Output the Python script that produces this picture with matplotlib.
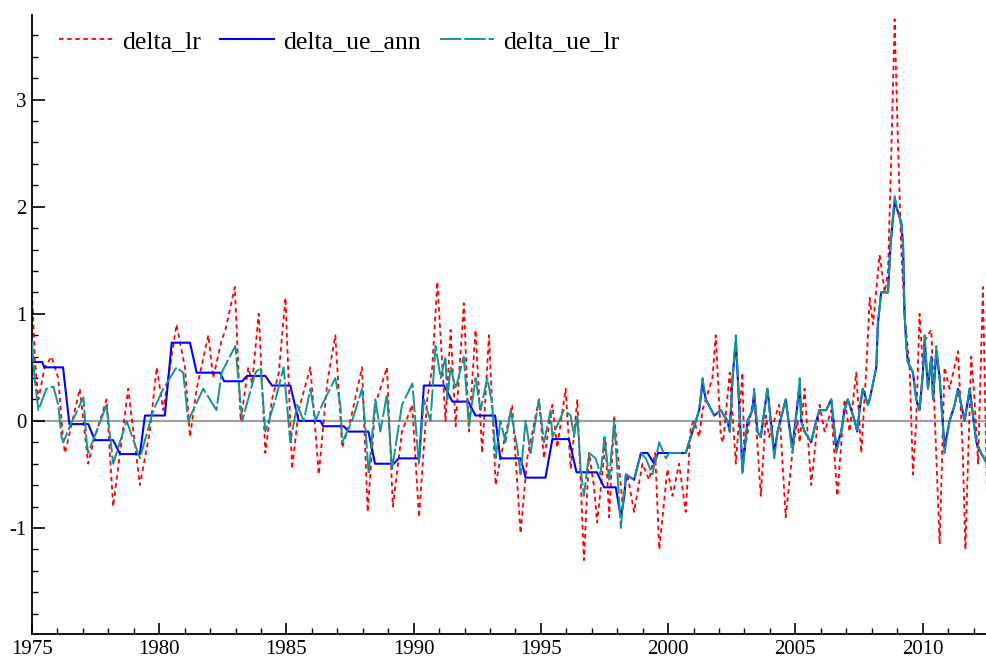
import matplotlib
matplotlib.use("Agg")
import matplotlib.pyplot as plt
from matplotlib.ticker import MultipleLocator

plt.rcParams['font.family'] = ['Liberation Serif', 'DejaVu Serif']
plt.rcParams['axes.unicode_minus'] = False

# delta_lr : (decimal year, value)
lr_t = [1975.00, 1975.12, 1975.25, 1975.50, 1975.77, 1976.03, 1976.23, 1976.30, 1976.49, 1976.88,
        1977.21, 1977.41, 1977.93, 1978.19, 1978.46, 1978.78, 1979.24, 1979.63, 1979.90, 1980.16,
        1980.68, 1981.01, 1981.21, 1981.47, 1981.93, 1982.12, 1982.45, 1982.60, 1982.97, 1983.20,
        1983.50, 1983.65, 1983.91, 1984.17, 1984.43, 1984.70, 1984.96, 1985.22, 1985.48, 1985.94,
        1986.27, 1986.60, 1986.92, 1987.19, 1987.51, 1987.97, 1988.19, 1988.49, 1988.95, 1989.18,
        1989.54, 1989.94, 1990.21, 1990.53, 1990.73, 1990.93, 1991.25, 1991.45, 1991.65, 1991.97,
        1992.17, 1992.43, 1992.69, 1992.96, 1993.22, 1993.41, 1993.68, 1993.87, 1994.20, 1994.46,
        1994.92, 1995.12, 1995.45, 1995.64, 1995.97, 1996.17, 1996.43, 1996.69, 1996.89, 1997.08,
        1997.21, 1997.54, 1997.68, 1997.88, 1998.01, 1998.20, 1998.40, 1998.66, 1998.99, 1999.25,
        1999.49, 1999.65, 1999.97, 2000.17, 2000.43, 2000.69, 2000.89, 2001.02, 2001.22, 2001.35,
        2001.74, 2001.87, 2002.07, 2002.16, 2002.42, 2002.66, 2002.92, 2002.99, 2003.38, 2003.64,
        2003.84, 2003.97, 2004.36, 2004.62, 2004.88, 2005.08, 2005.17, 2005.36, 2005.62, 2005.95,
        2006.15, 2006.41, 2006.65, 2006.93, 2007.13, 2007.39, 2007.59, 2007.79, 2007.92, 2008.05,
        2008.31, 2008.51, 2008.64, 2008.77, 2008.90, 2009.03, 2009.16, 2009.29, 2009.49, 2009.62,
        2009.75, 2009.88, 2010.01, 2010.08, 2010.34, 2010.50, 2010.67, 2010.86, 2011.06, 2011.39,
        2011.58, 2011.68, 2011.91, 2012.04, 2012.18, 2012.37, 2012.53]
lr_v = [1.20, 0.55, 0.20, 0.50, 0.60, 0.40, -0.20, -0.30, -0.10, 0.30,
        -0.40, -0.20, 0.20, -0.80, -0.30, 0.30, -0.60, -0.10, 0.50, 0.10,
        0.90, 0.50, -0.15, 0.30, 0.80, 0.40, 0.75, 0.85, 1.25, 0.00,
        0.50, 0.35, 1.00, -0.30, 0.20, 0.45, 1.15, -0.45, 0.10, 0.50,
        -0.50, 0.35, 0.80, -0.25, 0.00, 0.50, -0.85, 0.15, 0.50, -0.80,
        -0.10, 0.15, -0.90, 0.20, 0.50, 1.30, 0.00, 0.85, -0.05, 1.10,
        -0.10, 0.85, -0.30, 0.80, -0.60, -0.35, -0.05, 0.15, -1.05, -0.35,
        0.20, -0.35, 0.15, -0.25, 0.30, -0.45, 0.20, -1.30, -0.30, -0.60,
        -0.95, -0.20, -0.90, 0.05, -0.30, -0.75, -0.50, -0.85, -0.40, -0.55,
        -0.30, -1.20, -0.45, -0.70, -0.40, -0.85, -0.05, 0.00, -0.15, 0.10,
        0.40, 0.80, -0.15, -0.20, 0.45, -0.40, 0.45, -0.30, 0.25, -0.70,
        0.05, -0.15, 0.15, -0.90, -0.30, 0.00, -0.20, 0.30, -0.60, 0.15,
        -0.10, 0.10, -0.70, 0.20, -0.10, 0.45, -0.30, 0.50, 1.15, 0.90,
        1.55, 1.20, 1.40, 2.50, 3.75, 2.60, 1.60, 1.00, 0.50, -0.50,
        0.00, 1.00, 0.50, 0.75, 0.85, -0.10, -1.15, 0.50, 0.30, 0.65,
        -0.30, -1.20, 0.60, 0.20, -0.40, 1.25, -0.70]

# delta_ue_ann
ue_ann_t = [1975.00, 1975.40, 1975.48, 1976.22, 1976.47, 1977.21, 1977.47, 1978.19, 1978.46, 1979.24,
            1979.44, 1980.22, 1980.49, 1981.21, 1981.47, 1982.39, 1982.55, 1983.26, 1983.45, 1984.17,
            1984.43, 1985.15, 1985.48, 1986.33, 1986.45, 1987.25, 1987.45, 1988.22, 1988.48, 1989.22,
            1989.41, 1990.22, 1990.40, 1991.19, 1991.52, 1992.15, 1992.43, 1993.20, 1993.40, 1994.20,
            1994.40, 1995.18, 1995.45, 1996.10, 1996.40, 1997.20, 1997.48, 1997.94, 1998.14, 1998.28,
            1998.34, 1998.66, 1998.93, 1999.19, 1999.45, 1999.52, 1999.60, 2000.69, 2000.89, 2001.09,
            2001.22, 2001.35, 2001.48, 2001.81, 2002.07, 2002.33, 2002.42, 2002.53, 2002.66, 2002.92,
            2003.12, 2003.31, 2003.38, 2003.51, 2003.64, 2003.90, 2004.17, 2004.30, 2004.62, 2004.88,
            2005.08, 2005.17, 2005.23, 2005.36, 2005.62, 2005.82, 2005.95, 2006.21, 2006.41, 2006.54,
            2006.61, 2006.80, 2006.93, 2007.06, 2007.20, 2007.33, 2007.43, 2007.52, 2007.65, 2007.85,
            2007.92, 2008.18, 2008.24, 2008.37, 2008.64, 2008.74, 2008.90, 2009.03, 2009.16, 2009.23,
            2009.29, 2009.36, 2009.42, 2009.62, 2009.75, 2009.88, 2010.01, 2010.08, 2010.21, 2010.34,
            2010.41, 2010.54, 2010.67, 2010.86, 2011.06, 2011.26, 2011.39, 2011.65, 2011.85, 2012.11,
            2012.30, 2012.53]
ue_ann_v = [0.55, 0.55, 0.50, 0.50, -0.03, -0.03, -0.18, -0.18, -0.31, -0.31,
            0.05, 0.05, 0.73, 0.73, 0.45, 0.45, 0.37, 0.37, 0.42, 0.42,
            0.33, 0.33, 0.00, 0.00, -0.05, -0.05, -0.10, -0.10, -0.40, -0.40,
            -0.35, -0.35, 0.33, 0.33, 0.18, 0.18, 0.05, 0.05, -0.35, -0.35,
            -0.53, -0.53, -0.17, -0.17, -0.48, -0.48, -0.62, -0.62, -0.90, -0.70,
            -0.50, -0.55, -0.30, -0.30, -0.40, -0.35, -0.30, -0.30, -0.15, 0.00,
            0.10, 0.35, 0.20, 0.05, 0.10, 0.00, -0.10, 0.40, 0.75, -0.45,
            0.00, 0.10, 0.25, -0.10, -0.15, 0.30, -0.30, -0.10, 0.20, -0.25,
            0.15, 0.35, 0.00, -0.10, -0.20, 0.00, 0.10, 0.10, 0.20, -0.10,
            -0.25, -0.10, 0.10, 0.20, 0.10, 0.00, -0.10, 0.10, 0.30, 0.15,
            0.20, 0.50, 0.90, 1.20, 1.20, 1.65, 2.05, 1.95, 1.85, 1.65,
            1.00, 0.70, 0.55, 0.45, 0.20, 0.10, 0.45, 0.75, 0.30, 0.60,
            0.20, 0.65, 0.40, -0.25, 0.00, 0.15, 0.30, 0.00, 0.30, -0.20,
            -0.30, -0.40]

# delta_ue_lr
ue_lr_t = [1975.00, 1975.10, 1975.25, 1975.57, 1975.84, 1976.03, 1976.16, 1976.23, 1976.49, 1977.02,
           1977.15, 1977.21, 1977.93, 1978.19, 1978.72, 1979.24, 1979.77, 1980.16, 1980.68, 1980.94,
           1981.14, 1981.73, 1982.25, 1982.45, 1982.99, 1983.26, 1983.78, 1983.98, 1984.11, 1984.17,
           1984.57, 1984.89, 1985.15, 1985.42, 1985.68, 1985.94, 1986.14, 1986.40, 1986.92, 1987.12,
           1987.19, 1987.58, 1987.97, 1988.10, 1988.23, 1988.49, 1988.69, 1988.95, 1989.15, 1989.54,
           1989.95, 1990.20, 1990.40, 1990.53, 1990.66, 1990.86, 1991.06, 1991.25, 1991.32, 1991.45,
           1991.65, 1991.97, 1992.17, 1992.43, 1992.63, 1992.89, 1993.09, 1993.22, 1993.41, 1993.61,
           1993.81, 1994.07, 1994.20, 1994.40, 1994.59, 1994.92, 1995.12, 1995.38, 1995.45, 1995.90,
           1996.17, 1996.30, 1996.43, 1996.56, 1996.69, 1996.89, 1997.15, 1997.34, 1997.50, 1997.68,
           1997.88, 1998.14, 1998.34, 1998.66, 1998.93, 1999.12, 1999.38, 1999.65, 1999.91, 2000.04,
           2000.69, 2000.89, 2001.09, 2001.22, 2001.35, 2001.48, 2001.81, 2002.07, 2002.33, 2002.42,
           2002.53, 2002.66, 2002.92, 2003.12, 2003.31, 2003.38, 2003.51, 2003.64, 2003.90, 2004.17,
           2004.30, 2004.62, 2004.88, 2005.08, 2005.17, 2005.23, 2005.36, 2005.62, 2005.82, 2005.95,
           2006.21, 2006.41, 2006.54, 2006.61, 2006.80, 2006.93, 2007.06, 2007.20, 2007.33, 2007.43,
           2007.52, 2007.65, 2007.85, 2007.92, 2008.18, 2008.24, 2008.37, 2008.64, 2008.74, 2008.90,
           2009.03, 2009.16, 2009.23, 2009.29, 2009.36, 2009.42, 2009.62, 2009.75, 2009.88, 2010.01,
           2010.08, 2010.21, 2010.34, 2010.41, 2010.54, 2010.67, 2010.86, 2011.06, 2011.26, 2011.39,
           2011.65, 2011.85, 2012.11, 2012.30, 2012.53]
ue_lr_v = [0.75, 0.40, 0.10, 0.30, 0.32, 0.15, -0.15, -0.20, -0.05, 0.22,
           -0.20, -0.30, 0.15, -0.40, 0.00, -0.35, 0.10, 0.30, 0.50, 0.45,
           0.00, 0.30, 0.10, 0.45, 0.70, 0.00, 0.45, 0.50, 0.10, -0.10,
           0.20, 0.50, -0.20, 0.15, 0.00, 0.30, 0.00, 0.15, 0.40, 0.15,
           -0.20, 0.00, 0.30, -0.05, -0.50, 0.20, -0.10, 0.25, -0.45, 0.15,
           0.35, -0.40, 0.20, 0.10, 0.00, 0.70, 0.40, 0.60, 0.20, 0.50,
           0.30, 0.60, -0.05, 0.40, 0.10, 0.40, 0.15, -0.35, 0.00, -0.20,
           0.10, -0.25, -0.50, 0.00, -0.30, 0.20, -0.20, 0.10, -0.15, 0.10,
           0.05, -0.15, 0.05, -0.45, -0.70, -0.30, -0.35, -0.50, -0.15, -0.55,
           0.00, -1.00, -0.50, -0.55, -0.30, -0.35, -0.50, -0.20, -0.35, -0.30,
           -0.30, -0.15, 0.00, 0.10, 0.40, 0.20, 0.05, 0.10, 0.00, -0.10,
           0.40, 0.80, -0.50, 0.00, 0.10, 0.30, -0.10, -0.15, 0.30, -0.35,
           -0.10, 0.20, -0.30, 0.15, 0.40, 0.00, -0.10, -0.20, 0.00, 0.10,
           0.10, 0.20, -0.10, -0.30, -0.10, 0.10, 0.20, 0.10, 0.00, -0.10,
           0.10, 0.30, 0.15, 0.20, 0.50, 0.90, 1.20, 1.20, 1.65, 2.10,
           1.95, 1.85, 1.65, 1.00, 0.70, 0.55, 0.45, 0.20, 0.10, 0.45,
           0.80, 0.30, 0.60, 0.20, 0.70, 0.40, -0.30, 0.00, 0.15, 0.30,
           0.00, 0.30, -0.20, -0.30, -0.40]

fig = plt.figure(figsize=(9.87, 6.57), dpi=100)
ax = fig.add_axes([32 / 987, 23 / 657, 955 / 987, 619 / 657])

ax.axhline(0, color='#a0a0a0', lw=1.6, zorder=1)
ax.plot(lr_t, lr_v, color='#ff0000', lw=1.3, linestyle=(0, (2.5, 2)), label='delta_lr', zorder=2)
ax.plot(ue_ann_t, ue_ann_v, color='#0000ff', lw=1.5, label='delta_ue_ann', zorder=3)
ax.plot(ue_lr_t, ue_lr_v, color='#159393', lw=1.4, linestyle=(0, (11, 1.5)), label='delta_ue_lr', zorder=4)

ax.set_xlim(1975, 2012.53)
ax.set_ylim(-1.99, 3.79)

ax.spines['top'].set_visible(False)
ax.spines['right'].set_visible(False)
for s in ['left', 'bottom']:
    ax.spines[s].set_linewidth(1.3)

ax.set_xticks([1975, 1980, 1985, 1990, 1995, 2000, 2005, 2010])
ax.xaxis.set_minor_locator(MultipleLocator(1))
ax.set_yticks([-1, 0, 1, 2, 3])
ax.yaxis.set_minor_locator(MultipleLocator(0.2))
ax.tick_params(which='major', direction='in', length=8, width=1.2, labelsize=15, pad=4)
ax.tick_params(which='minor', direction='in', length=4, width=1.0)
ax.tick_params(axis='y', which='major', length=9)

leg = ax.legend(loc='upper left', bbox_to_anchor=(0.028, 0.975), ncol=3, frameon=False,
                fontsize=18.5, handlelength=2.1, handletextpad=0.35, columnspacing=0.75,
                borderpad=0, borderaxespad=0)

fig.savefig('out.png', dpi=100)
